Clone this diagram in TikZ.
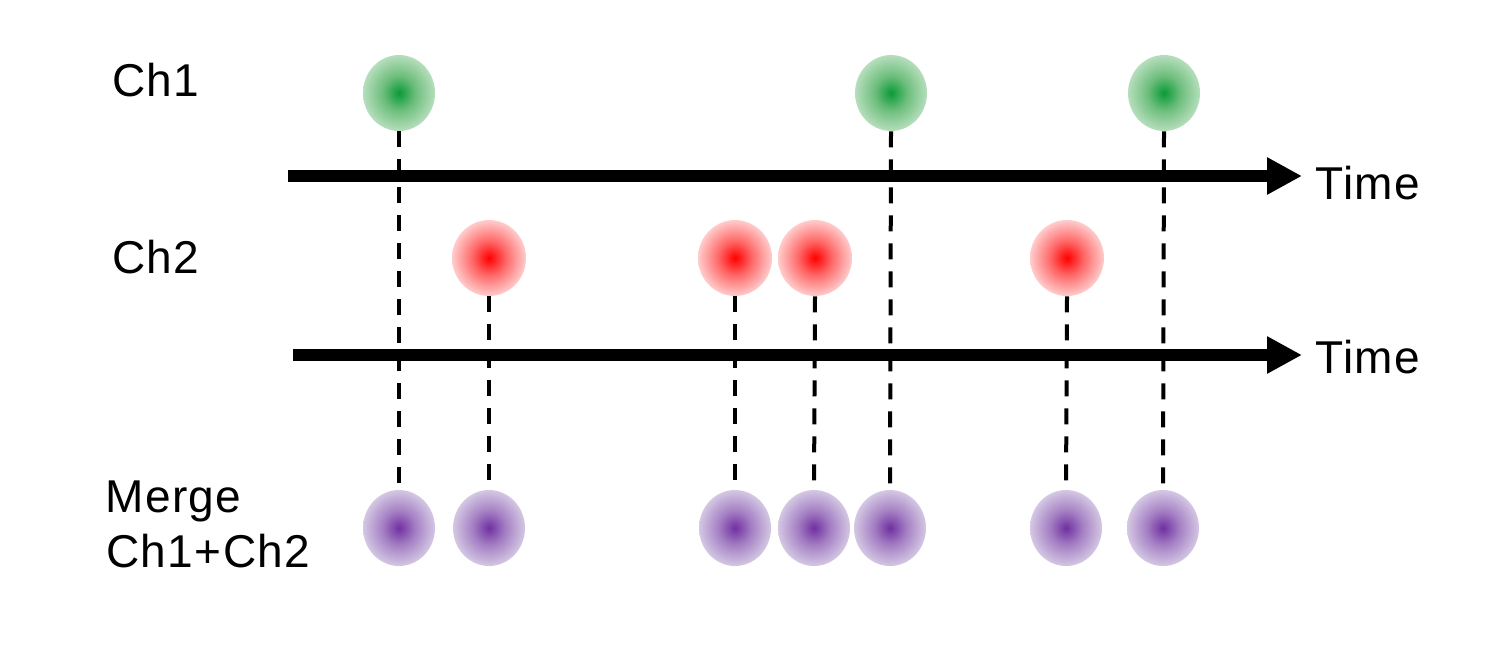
\documentclass[tikz,border=0pt]{standalone}
\usepackage{fontspec}
\setmainfont{Liberation Sans}
\usetikzlibrary{shapes.geometric,arrows.meta}
\definecolor{gc}{RGB}{10,155,55}
\definecolor{gm}{RGB}{110,190,125}
\definecolor{go}{RGB}{198,229,202}
\definecolor{rc}{RGB}{255,0,0}
\definecolor{rm}{RGB}{255,105,105}
\definecolor{ro}{RGB}{255,226,226}
\definecolor{pc}{RGB}{112,48,160}
\definecolor{pm}{RGB}{165,128,196}
\definecolor{po}{RGB}{222,215,234}
\pgfdeclareradialshading{greenball}{\pgfpoint{0bp}{0bp}}{color(0bp)=(gc); color(11.5bp)=(gm); color(28bp)=(go); color(100bp)=(go)}
\pgfdeclareradialshading{redball}{\pgfpoint{0bp}{0bp}}{color(0bp)=(rc); color(11.5bp)=(rm); color(28bp)=(ro); color(100bp)=(ro)}
\pgfdeclareradialshading{purpleball}{\pgfpoint{0bp}{0bp}}{color(0bp)=(pc); color(11.5bp)=(pm); color(28bp)=(po); color(100bp)=(po)}
\tikzset{
  ball/.style={ellipse, inner sep=0pt, minimum width=1.44cm, minimum height=1.52cm, shade},
  gball/.style={ball, shading=greenball},
  rball/.style={ball, shading=redball, minimum width=1.48cm},
  pball/.style={ball, shading=purpleball},
  lbl/.style={anchor=base west, inner sep=0pt, font=\fontsize{26.2pt}{31pt}\selectfont\addfontfeature{LetterSpace=3}},
  timeline/.style={line width=0.24cm, -{Triangle[length=0.7cm,width=0.7cm]}},
  link/.style={line width=0.08cm, dash pattern=on 0.32cm off 0.24cm, shorten >=0.1cm},
}
\begin{document}
\begin{tikzpicture}[x=0.02cm, y=-0.02cm]
\useasboundingbox (0,0) rectangle (1500,656);
\fill[white] (0,0) rectangle (1500,656);
% labels
\node[lbl] (ch1) at (112,96.7) {Ch1};
\node[lbl] (ch2) at (112,273.3) {Ch2};
\node[lbl] (merge) at (105,512) {Merge};
\node[lbl] (merge2) at (106,567) {Ch1+Ch2};
\node[lbl] (time1) at (1315,199) {Time};
\node[lbl] (time2) at (1315,373.3) {Time};
% balls
\node[gball] (g1) at (399,93) {};
\node[gball] (g2) at (891,93) {};
\node[gball] (g3) at (1164,93) {};
\node[rball] (r1) at (489,258) {};
\node[rball] (r2) at (735,258) {};
\node[rball] (r3) at (815,258) {};
\node[rball] (r4) at (1067,258) {};
\node[pball] (m1) at (399,528) {};
\node[pball] (m2) at (489,528) {};
\node[pball] (m3) at (735,528) {};
\node[pball] (m4) at (814,528) {};
\node[pball] (m5) at (890,528) {};
\node[pball] (m6) at (1066,528) {};
\node[pball] (m7) at (1163,528) {};
% dashed links
\draw[link] (g1.south) -- (m1.north);
\draw[link] (g2.south) -- (m5.north);
\draw[link] (g3.south) -- (m7.north);
\draw[link] (r1.south) -- (m2.north);
\draw[link] (r2.south) -- (m3.north);
\draw[link] (r3.south) -- (m4.north);
\draw[link] (r4.south) -- (m6.north);
% time axes
\coordinate (a1s) at (288,176);
\coordinate (a1e) at (1302,176);
\coordinate (a2s) at (293,355);
\coordinate (a2e) at (1302,355);
\draw[timeline] (a1s) -- (a1e);
\draw[timeline] (a2s) -- (a2e);
\end{tikzpicture}
\end{document}
